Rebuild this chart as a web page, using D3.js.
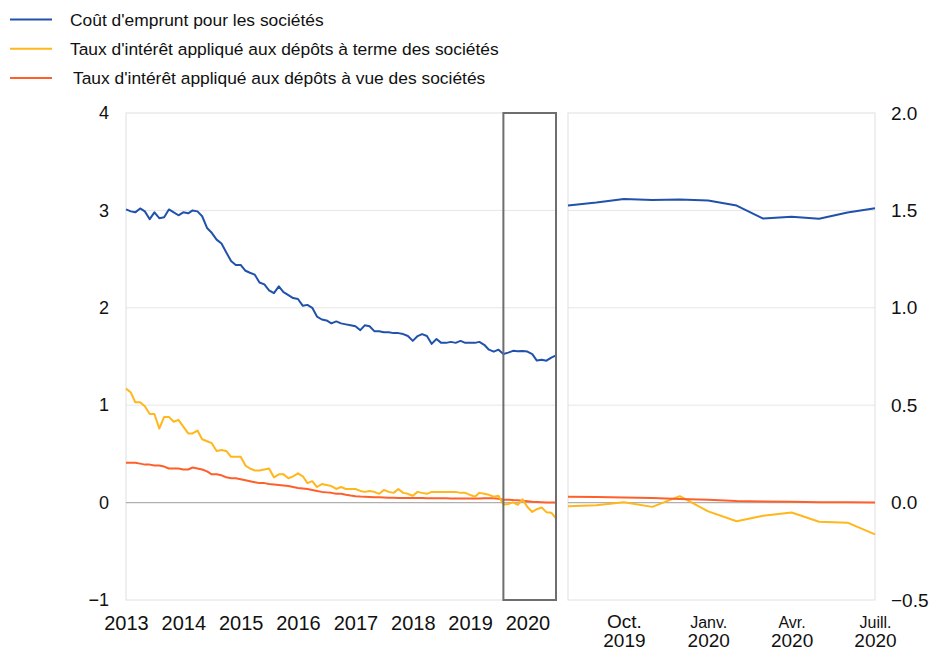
<!DOCTYPE html>
<html>
<head>
<meta charset="utf-8">
<script src="https://cdn.jsdelivr.net/npm/d3@7"></script>
<style>
  body { margin: 0; background: #fff; }
  svg { font-family: "Liberation Sans", Arial, sans-serif; }
</style>
</head>
<body>
<div id="chart"></div>
<script>
// Series names (legend)
const seriesNames = [
  "Coût d'emprunt pour les sociétés",
  "Taux d'intérêt appliqué aux dépôts à terme des sociétés",
  "Taux d'intérêt appliqué aux dépôts à vue des sociétés"
];
const seriesColors = ["#2152ab", "#ffb71c", "#ff5f2b"];

// Monthly values, Jan 2013 to Jul 2020
const borrowingCost = [
  3.01, 2.99, 2.98, 3.02, 2.99, 2.91, 2.98, 2.92, 2.93, 3.01, 2.98, 2.95,
  2.98, 2.97, 3.00, 2.99, 2.94, 2.82, 2.77, 2.70, 2.66, 2.57, 2.48, 2.44,
  2.44, 2.38, 2.36, 2.34, 2.26, 2.24, 2.18, 2.15, 2.22, 2.16, 2.13, 2.10,
  2.09, 2.02, 2.03, 2.00, 1.91, 1.88, 1.87, 1.84, 1.86, 1.84, 1.83, 1.82,
  1.81, 1.77, 1.82, 1.81, 1.76, 1.76, 1.75, 1.75, 1.74, 1.74, 1.73, 1.71,
  1.66, 1.71, 1.73, 1.71, 1.63, 1.68, 1.64, 1.64, 1.65, 1.64, 1.66, 1.64,
  1.64, 1.64, 1.65, 1.62, 1.57, 1.55, 1.57, 1.525, 1.54, 1.558, 1.553, 1.556,
  1.551, 1.525, 1.458, 1.467, 1.457, 1.489, 1.511
];
const termDeposits = [
  1.17, 1.13, 1.03, 1.03, 0.99, 0.91, 0.91, 0.76, 0.88, 0.88, 0.83, 0.85,
  0.78, 0.71, 0.71, 0.74, 0.65, 0.63, 0.61, 0.53, 0.54, 0.53, 0.47, 0.47,
  0.47, 0.38, 0.35, 0.33, 0.33, 0.34, 0.35, 0.26, 0.29, 0.29, 0.25, 0.27,
  0.30, 0.27, 0.20, 0.22, 0.16, 0.19, 0.18, 0.17, 0.14, 0.16, 0.14, 0.14,
  0.14, 0.12, 0.11, 0.12, 0.11, 0.09, 0.13, 0.11, 0.10, 0.14, 0.10, 0.09,
  0.07, 0.11, 0.10, 0.09, 0.11, 0.11, 0.11, 0.11, 0.11, 0.11, 0.10, 0.10,
  0.08, 0.06, 0.10, 0.09, 0.08, 0.06, 0.07, -0.019, -0.014, 0.002, -0.022, 0.033,
  -0.045, -0.096, -0.068, -0.051, -0.098, -0.103, -0.163
];
const overnightDeposits = [
  0.41, 0.41, 0.41, 0.40, 0.39, 0.39, 0.38, 0.38, 0.37, 0.35, 0.35, 0.35,
  0.34, 0.34, 0.36, 0.35, 0.34, 0.32, 0.29, 0.29, 0.28, 0.26, 0.25, 0.25,
  0.24, 0.23, 0.22, 0.21, 0.20, 0.20, 0.19, 0.185, 0.18, 0.175, 0.17, 0.16,
  0.15, 0.145, 0.14, 0.13, 0.12, 0.11, 0.105, 0.10, 0.09, 0.09, 0.08, 0.072,
  0.066, 0.062, 0.06, 0.058, 0.056, 0.055, 0.053, 0.051, 0.05, 0.048, 0.048, 0.048,
  0.047, 0.046, 0.046, 0.045, 0.045, 0.045, 0.045, 0.044, 0.043, 0.042, 0.042, 0.041,
  0.041, 0.042, 0.043, 0.044, 0.045, 0.044, 0.04, 0.03, 0.029, 0.026, 0.024, 0.019,
  0.014, 0.008, 0.006, 0.004, 0.002, 0.002, 0.001
];

// Tick labels
const leftTicks = [-1, 0, 1, 2, 3, 4];
const rightTicks = [-0.5, 0, 0.5, 1, 1.5, 2];
const zoomTickMonths = ["Oct.", "Janv.", "Avr.", "Juill."];
const zoomTickYears = ["2019", "2020", "2020", "2020"];

const startDate = new Date(Date.UTC(2013, 0, 1));
const months = borrowingCost.map((d, i) => d3.utcMonth.offset(startDate, i));
const zoomStart = 79; // Aug 2019

const allSeries = [borrowingCost, termDeposits, overnightDeposits];

// Create the chart
const width = 932;
const height = 653;
const svg = d3.select("#chart")
  .append("svg")
  .attr("width", width)
  .attr("height", height);

const plotTop = 113, plotBottom = 600;

// Create the scales
const x = d3.scaleUtc()
  .domain([months[0], months[months.length - 1]])
  .range([126, 556]);
const y = d3.scaleLinear()
  .domain([-1, 4])
  .range([plotBottom, plotTop]);
const xZoom = d3.scaleUtc()
  .domain([months[zoomStart], months[months.length - 1]])
  .range([568, 875]);
const yZoom = d3.scaleLinear()
  .domain([-0.5, 2])
  .range([plotBottom, plotTop]);

// Gridlines
svg.append("g")
  .selectAll("line")
  .data(leftTicks.filter(d => d !== 0 && d !== 4 && d !== -1))
  .join("line")
  .attr("x1", 126).attr("x2", 556)
  .attr("y1", d => y(d)).attr("y2", d => y(d))
  .attr("stroke", "#e6e6e6");
svg.append("g")
  .selectAll("line")
  .data(rightTicks.filter(d => d !== 0 && d !== 2 && d !== -0.5))
  .join("line")
  .attr("x1", 568).attr("x2", 875)
  .attr("y1", d => yZoom(d)).attr("y2", d => yZoom(d))
  .attr("stroke", "#e6e6e6");

// Panel frames
svg.append("rect")
  .attr("x", 126).attr("y", plotTop)
  .attr("width", 430).attr("height", plotBottom - plotTop)
  .attr("fill", "none").attr("stroke", "#e0e0e0");
svg.append("rect")
  .attr("x", 568).attr("y", plotTop)
  .attr("width", 307).attr("height", plotBottom - plotTop)
  .attr("fill", "none").attr("stroke", "#e0e0e0");

// Zero lines
svg.append("line")
  .attr("x1", 126).attr("x2", 556)
  .attr("y1", y(0)).attr("y2", y(0))
  .attr("stroke", "#b0b0b0").attr("stroke-width", 1.2);
svg.append("line")
  .attr("x1", 568).attr("x2", 875)
  .attr("y1", yZoom(0)).attr("y2", yZoom(0))
  .attr("stroke", "#b0b0b0").attr("stroke-width", 1.2);

// Add the axes
const leftAxis = svg.append("g")
  .attr("transform", "translate(126, 0)")
  .call(d3.axisLeft(y).tickValues(leftTicks).tickSize(0).tickPadding(17).tickFormat(d3.format("d")));
const rightAxis = svg.append("g")
  .attr("transform", "translate(875, 0)")
  .call(d3.axisRight(yZoom).tickValues(rightTicks).tickSize(0).tickPadding(16).tickFormat(d3.format(".1f")));
const bottomAxis = svg.append("g")
  .attr("transform", `translate(0, ${plotBottom})`)
  .call(d3.axisBottom(x).ticks(d3.utcYear.every(1)).tickSize(0).tickPadding(16).tickFormat(d3.utcFormat("%Y")));

const zoomTicks = [2, 5, 8, 11].map(i => months[zoomStart + i]);
const zoomAxis = svg.append("g")
  .attr("transform", `translate(0, ${plotBottom})`)
  .call(d3.axisBottom(xZoom).tickValues(zoomTicks).tickSize(0).tickFormat(""));

[leftAxis, rightAxis, bottomAxis, zoomAxis].forEach(g => {
  g.select(".domain").remove();
  g.selectAll("text").attr("fill", "#111").attr("font-family", "Liberation Sans, Arial, sans-serif");
});
leftAxis.selectAll("text").attr("font-size", 18);
rightAxis.selectAll("text").attr("font-size", 19);
bottomAxis.selectAll("text").attr("font-size", 20);

// Two-line labels for the zoom panel (month above, year below)
zoomAxis.selectAll(".tick").each(function(d, i) {
  const tick = d3.select(this);
  tick.select("text").remove();
  tick.append("text")
    .attr("y", 28)
    .attr("text-anchor", "middle")
    .attr("font-size", i === 0 ? 19 : 16)
    .attr("fill", "#111")
    .text(zoomTickMonths[i]);
  tick.append("text")
    .attr("y", 47)
    .attr("text-anchor", "middle")
    .attr("font-size", 19)
    .attr("fill", "#111")
    .text(zoomTickYears[i]);
});

// Draw the lines
const line = d3.line()
  .x((d, i) => x(months[i]))
  .y(d => y(d));
const zoomLine = d3.line()
  .x((d, i) => xZoom(months[zoomStart + i]))
  .y(d => yZoom(d));

// Draw back to front: orange, yellow, blue
[2, 1, 0].forEach(k => {
  svg.append("path")
    .datum(allSeries[k])
    .attr("d", line)
    .attr("fill", "none")
    .attr("stroke", seriesColors[k])
    .attr("stroke-width", 2)
    .attr("stroke-linejoin", "round");
});
[1, 2, 0].forEach(k => {
  svg.append("path")
    .datum(allSeries[k].slice(zoomStart))
    .attr("d", zoomLine)
    .attr("fill", "none")
    .attr("stroke", seriesColors[k])
    .attr("stroke-width", 2)
    .attr("stroke-linejoin", "round");
});

// Highlight box for the zoomed period
svg.append("rect")
  .attr("x", x(months[zoomStart]))
  .attr("y", plotTop)
  .attr("width", x(months[months.length - 1]) - x(months[zoomStart]))
  .attr("height", plotBottom - plotTop)
  .attr("fill", "none")
  .attr("stroke", "#6e6e6e")
  .attr("stroke-width", 2);

// Add the legend
const legend = svg.append("g");
seriesNames.forEach((name, i) => {
  const ly = 19.5 + i * 29.2;
  legend.append("line")
    .attr("x1", 10).attr("x2", 52)
    .attr("y1", ly).attr("y2", ly)
    .attr("stroke", seriesColors[i])
    .attr("stroke-width", 2);
  legend.append("text")
    .attr("x", i === 2 ? 73 : 70)
    .attr("y", ly)
    .attr("dy", "0.35em")
    .attr("font-size", 17.4)
    .attr("fill", "#111")
    .text(name);
});
</script>
</body>
</html>
